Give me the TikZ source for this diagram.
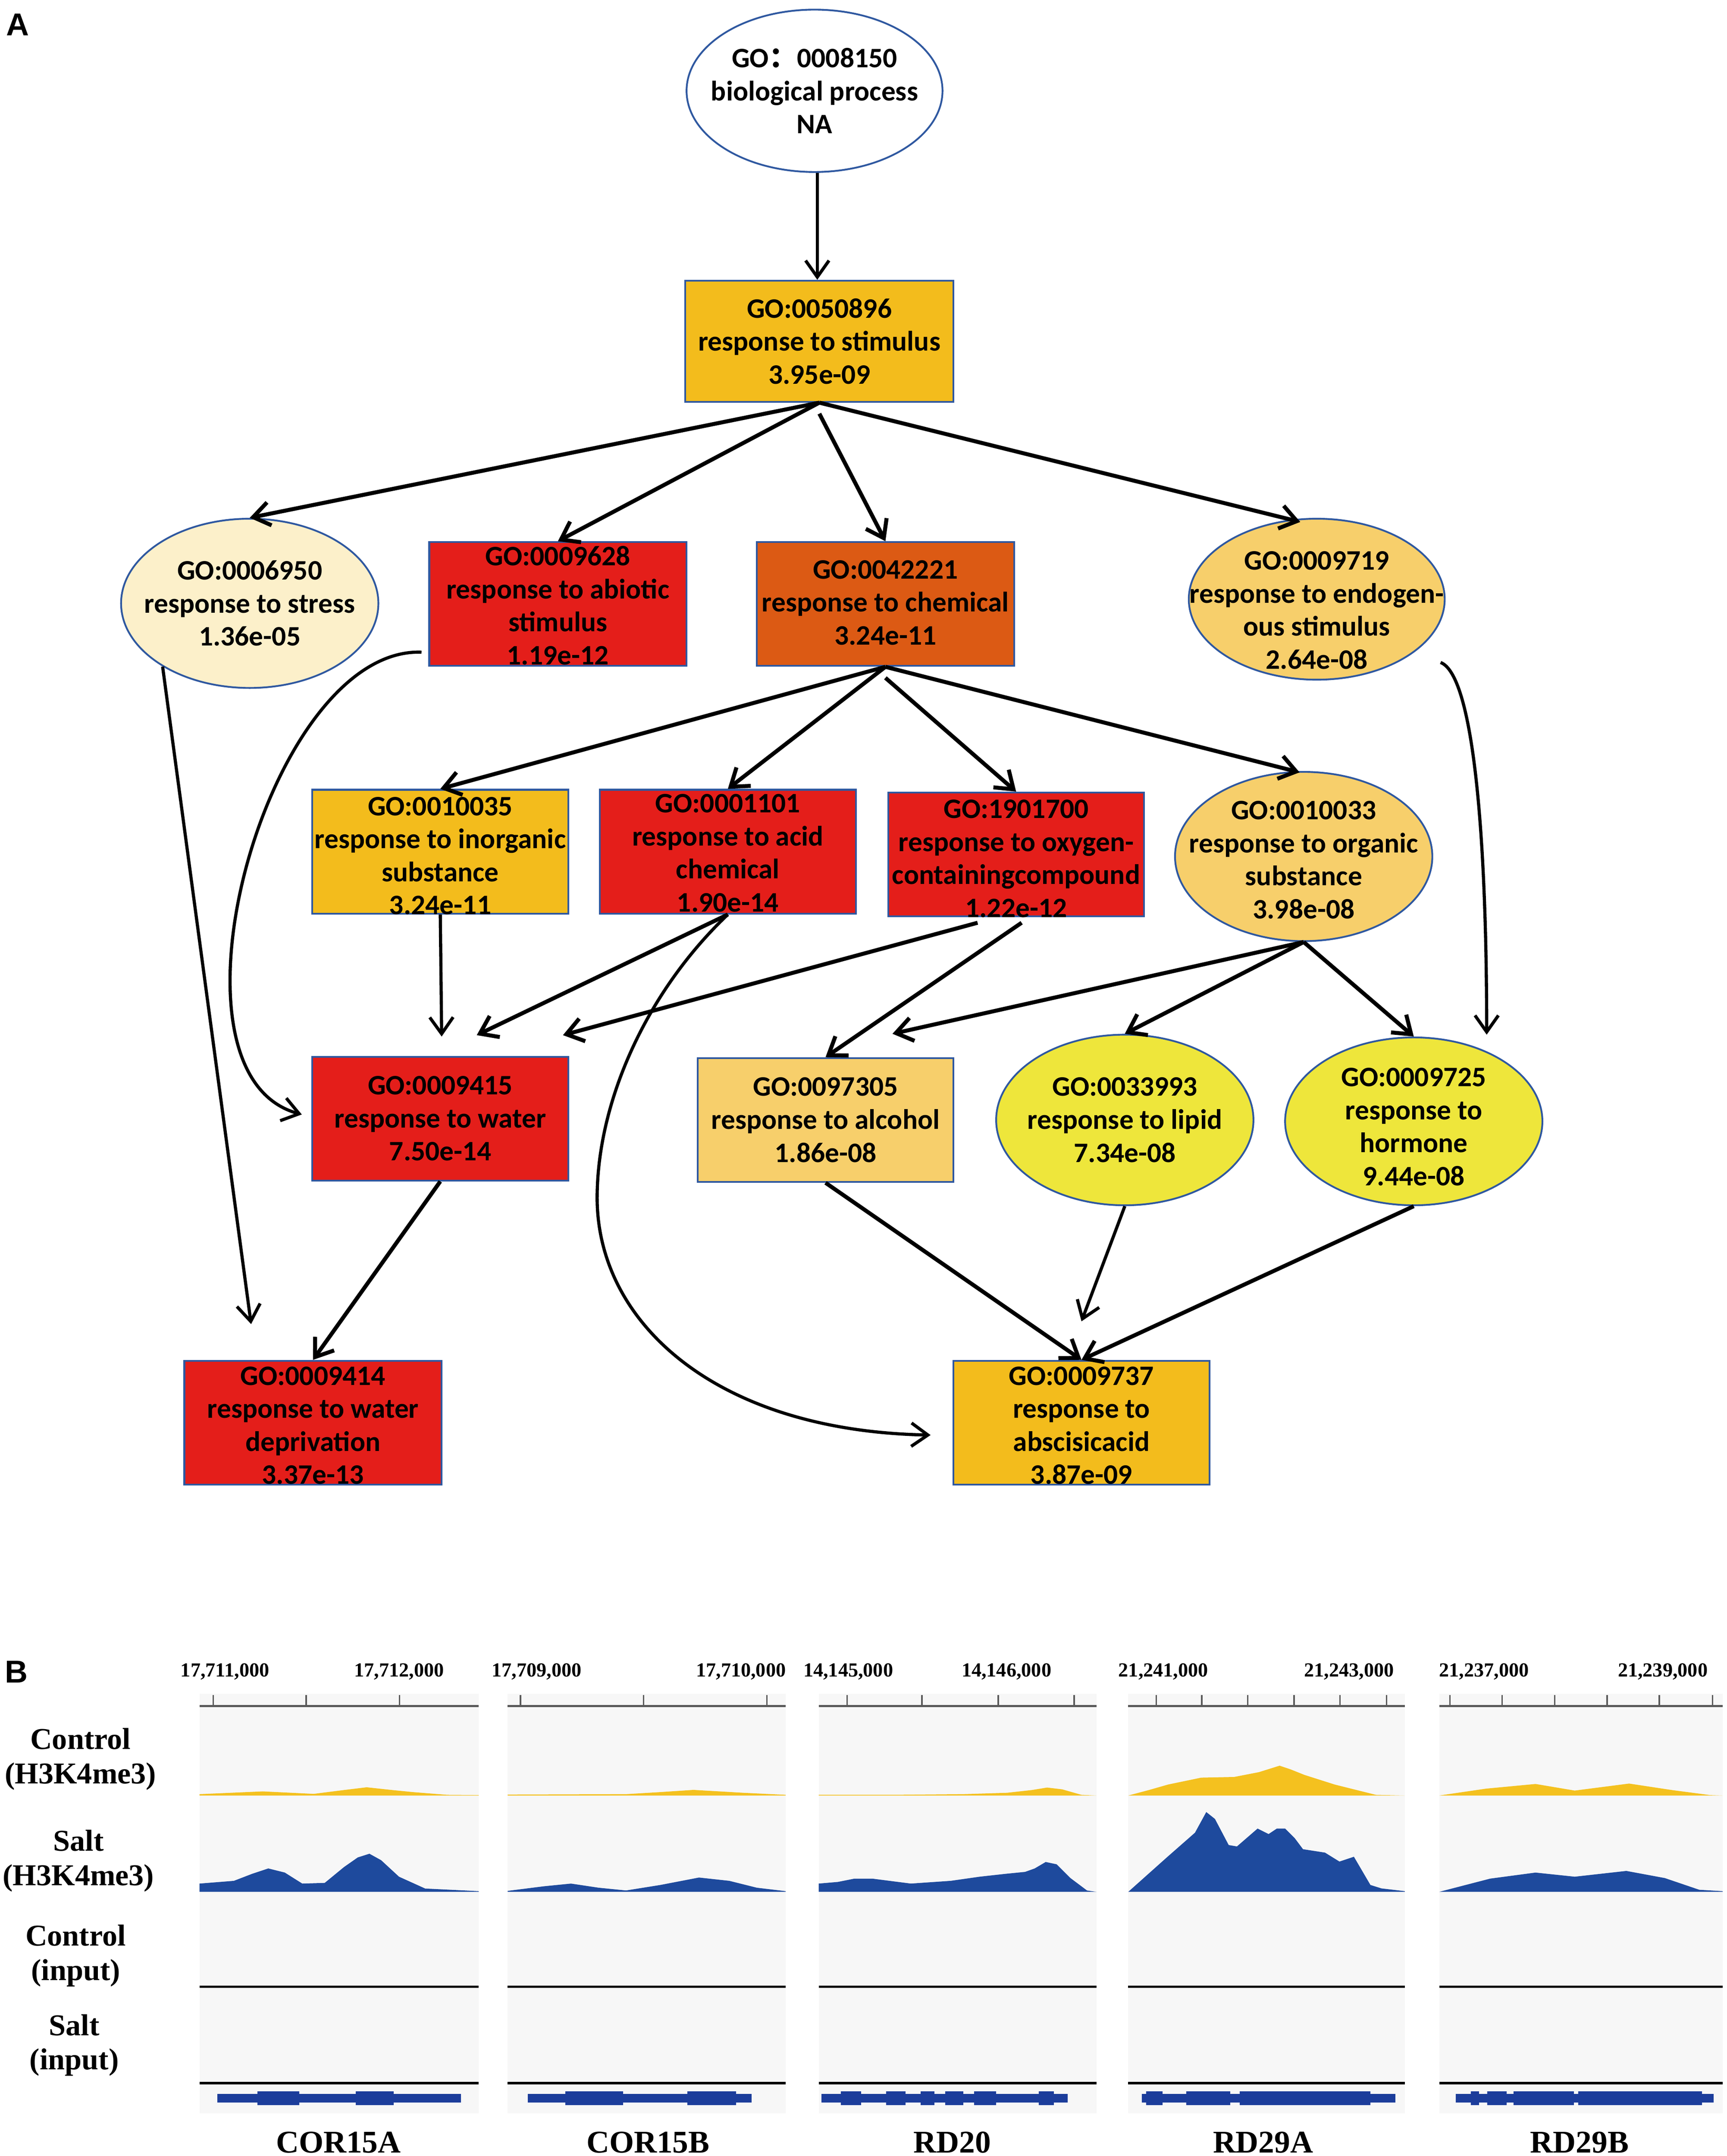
\documentclass[tikz,border=0pt]{standalone}
\usepackage{fontspec}
\setmainfont{Liberation Serif}
\newfontfamily\gofont{Carlito}
\newfontfamily\sansb{Liberation Sans}
\newfontfamily\cjk{Noto Sans CJK SC}
\usetikzlibrary{arrows.meta,calc,shapes.geometric}
\definecolor{gored}{HTML}{E41E1A}
\definecolor{gochem}{HTML}{DC5A14}
\definecolor{goorange}{HTML}{F3BC1C}
\definecolor{golight}{HTML}{F7CF6B}
\definecolor{goyellow}{HTML}{EEE63B}
\definecolor{gocream}{HTML}{FCF0CA}
\definecolor{goblue}{HTML}{2F58A0}
\definecolor{sigyel}{HTML}{F4C11F}
\definecolor{sigblue}{HTML}{1E4A9D}
\definecolor{genec}{HTML}{1C3D9B}
\definecolor{panelbg}{HTML}{F7F7F7}
\definecolor{rulerc}{HTML}{5A5A5A}
\newcommand\gobox[9]{%
  \node[#2,fill=#3,minimum width=#6pt,minimum height=#7pt] (#1) at (#4,#5) {};
  \node[gotext] (#1t) at ($(#1.center)+(0,#8)$) {#9};}
\begin{document}
\begin{tikzpicture}[x=1pt,y=-1pt,
  gorect/.style={rectangle,draw=goblue,line width=1.3pt,inner sep=0pt},
  goell/.style={ellipse,draw=goblue,line width=1.3pt,inner sep=0pt},
  gotext/.style={align=center,inner sep=0pt,font=\gofont\bfseries\fontsize{20.5}{24}\selectfont},
  arr/.style={line width=2.9pt,-{Straight Barb[length=12pt,width=17pt,line width=2.9pt]}},
  arrthin/.style={line width=2.3pt,-{Straight Barb[length=12pt,width=17pt,line width=2.3pt]}},
  panlab/.style={font=\sansb\bfseries\fontsize{23}{23}\selectfont,inner sep=0pt},
  ticklab/.style={font=\bfseries\fontsize{14.5}{15}\selectfont,inner sep=0pt},
  rowlab/.style={align=center,font=\bfseries\fontsize{22}{25}\selectfont,inner sep=0pt},
  genelab/.style={font=\bfseries\fontsize{23}{23}\selectfont,inner sep=0pt},
  tick/.style={rulerc,line width=1.1pt},
  ruler/.style={rulerc,line width=1.5pt},
  inputline/.style={black,line width=1.6pt}
]
\useasboundingbox (0,0) rectangle (1255,1567);
\fill[white] (0,0) rectangle (1255,1567);

% ---------------- Panel A ----------------
\node[panlab] (labA) at (13,18) {A};

\gobox{root}{goell}{white}{592}{66}{186}{118}{0}{GO{\cjk ：}0008150\\biological process\\NA}
\gobox{stim}{gorect}{goorange}{595.5}{248}{195}{88}{0}{GO:0050896\\response to stimulus\\3.95e-09}
\gobox{stress}{goell}{gocream}{181.5}{438.5}{187}{123}{0}{GO:0006950\\response to stress\\1.36e-05}
\gobox{abiotic}{gorect}{gored}{405.5}{439}{187}{90}{1}{GO:0009628\\response to abiotic\\stimulus\\1.19e-12}
\gobox{chem}{gorect}{gochem}{643.5}{439}{187}{90}{-1}{GO:0042221\\response to chemical\\3.24e-11}
\gobox{endo}{goell}{golight}{957}{435.5}{186}{117}{8}{GO:0009719\\response to endogen-\\ous stimulus\\2.64e-08}
\gobox{inorg}{gorect}{goorange}{320}{619}{186}{90}{3}{GO:0010035\\response to inorganic\\substance\\3.24e-11}
\gobox{acid}{gorect}{gored}{529}{619}{186}{90}{1}{GO:0001101\\response to acid\\chemical\\1.90e-14}
\gobox{oxy}{gorect}{gored}{738.5}{621}{186}{90}{3}{GO:1901700\\response to oxygen-\\containingcompound\\1.22e-12}
\gobox{organic}{goell}{golight}{947.5}{622.5}{187}{123}{2.5}{GO:0010033\\response to organic\\substance\\3.98e-08}
\gobox{water}{gorect}{gored}{320}{813}{186}{90}{0}{GO:0009415\\response to water\\7.50e-14}
\gobox{alcohol}{gorect}{golight}{600}{814}{186}{90}{0}{GO:0097305\\response to alcohol\\1.86e-08}
\gobox{lipid}{goell}{goyellow}{817.5}{814}{187}{124}{0}{GO:0033993\\response to lipid\\7.34e-08}
\gobox{hormone}{goell}{goyellow}{1027.5}{815}{187}{122}{4}{GO:0009725\\response to\\hormone\\9.44e-08}
\gobox{deprive}{gorect}{gored}{227.5}{1034}{187}{90}{2}{GO:0009414\\response to water\\deprivation\\3.37e-13}
\gobox{aba}{gorect}{goorange}{786}{1034}{186}{90}{2}{GO:0009737\\response to\\abscisicacid\\3.87e-09}

\draw[arrthin] ($(root.south)+(2,0)$) -- ($(stim.north)+(-1.5,0)$);
\draw[arr] (stim.south) -- (stress.north);
\draw[arr] (stim.south) -- (abiotic.north);
\draw[arr] ($(stim.south)+(0,8)$) -- (chem.north);
\draw[arr] (stim.south) -- ($(endo.north)+(-12,3)$);
\draw[arr] (chem.south) -- (inorg.north);
\draw[arr] (chem.south) -- (acid.north);
\draw[arr] ($(chem.south)+(0,8)$) -- (oxy.north);
\draw[arr] (chem.south) -- ($(organic.north)+(-3,1)$);
\draw[arrthin] (inorg.south) -- ($(water.north)+(1,-14)$);
\draw[arr] (acid.south) -- ($(water.north)+(26.5,-15)$);
\draw[arr] ($(oxy.south)+(-28,4)$) -- ($(water.north east)+(-4.5,-15)$);
\draw[arr] ($(oxy.south)+(4,4)$) -- (alcohol.north);
\draw[arr] (organic.south) -- ($(alcohol.north east)+(-45,-17)$);
\draw[arr] (organic.south) -- (lipid.north);
\draw[arr] (organic.south) -- (hormone.north);
\draw[arrthin] ($(endo.center)+(90,46)$) .. controls +(23,8.5) and +(0,-152) .. ($(hormone.center)+(53,-63)$);
\draw[arrthin] ($(abiotic.west)+(-5,35)$) .. controls +(-112,-4) and +(-110,-30) .. ($(water.west)+(-7,-3)$);
\draw[arrthin] (acid.south) .. controls +(-59,56) and +(0,-70) .. ($(acid.south)+(-95,206)$)
   .. controls +(0,90) and +(-157,-3) .. ($(aba.west)+(-16,9)$);
\draw[arrthin] (stress.216) -- ($(deprive.north)+(-45,-26)$);
\draw[arr] (water.south) -- (deprive.north);
\draw[arr] (alcohol.south) -- (aba.north);
\draw[arrthin] (lipid.south) -- ($(aba.north)+(0,-28)$);
\draw[arr] (hormone.south) -- (aba.north);

% ---------------- Panel B ----------------
\node[panlab] (labB) at (12,1215) {B};

\foreach \a/\b in {145/348,369/571,595/797,820/1021,1046/1252}{
  \fill[panelbg] (\a,1231) rectangle (\b,1536);
  \draw[ruler] (\a,1240) -- (\b,1240);
  \draw[inputline] (\a,1444) -- (\b,1444);
  \draw[inputline] (\a,1514) -- (\b,1514);
}
\foreach \x in {155,222.5,290.4, 378.3,467.8,557.3, 615.7,670,725.5,780.7,
  840.4,873.4,906.8,940.5,973.9,1007.7, 1053.8,1091.7,1130,1168,1205.9,1244.6}{
  \draw[tick] (\x,1232) -- (\x,1240);
}
\node[ticklab] (t1a) at (163.5,1215) {17,711,000};
\node[ticklab] (t1b) at (290,1215) {17,712,000};
\node[ticklab] (t2a) at (390,1215) {17,709,000};
\node[ticklab] (t2b) at (538.5,1215) {17,710,000};
\node[ticklab] (t3a) at (616.5,1215) {14,145,000};
\node[ticklab] (t3b) at (731.5,1215) {14,146,000};
\node[ticklab] (t4a) at (845.5,1215) {21,241,000};
\node[ticklab] (t4b) at (980.5,1215) {21,243,000};
\node[ticklab] (t5a) at (1078.5,1215) {21,237,000};
\node[ticklab] (t5b) at (1208.5,1215) {21,239,000};

\node[rowlab] (r1) at (58.5,1278.5) {Control\\(H3K4me3)};
\node[rowlab] (r2) at (57,1352.5) {Salt\\(H3K4me3)};
\node[rowlab] (r3) at (55,1421.5) {Control\\(input)};
\node[rowlab] (r4) at (54,1486.5) {Salt\\(input)};

% control H3K4me3 (yellow)
\fill[sigyel] (145,1305) -- (145,1304) -- (191,1302) -- (228,1303.8) -- (250,1301) -- (266.5,1299) -- (285,1301) -- (300,1302.5) -- (325,1304.5) -- (348,1304.7) -- (348,1305) -- cycle;
\fill[sigyel] (369,1305) -- (369,1304.3) -- (455,1304) -- (480,1302.5) -- (504,1300.9) -- (540,1303) -- (571,1304.5) -- (571,1305) -- cycle;
\fill[sigyel] (595,1305) -- (595,1304.5) -- (650,1304.5) -- (700,1304) -- (732,1303) -- (750,1301) -- (761,1299.2) -- (772,1300.5) -- (786,1304.5) -- (797,1305) -- cycle;
\fill[sigyel] (820,1305) -- (835,1301) -- (849,1297) -- (873,1292) -- (897,1291.5) -- (915,1288) -- (930,1283.3) -- (938,1286) -- (948,1290) -- (970,1297) -- (1000,1304.5) -- (1021,1305) -- cycle;
\fill[sigyel] (1046,1305) -- (1080,1300) -- (1116,1296.6) -- (1144.5,1301.4) -- (1184,1296.3) -- (1215,1301) -- (1243,1304.7) -- (1252,1305) -- cycle;

% salt H3K4me3 (blue)
\fill[sigblue] (145,1375) -- (145,1369) -- (170,1367) -- (183,1362) -- (195,1358) -- (207,1361) -- (219.7,1369) -- (236,1368.5) -- (250,1357) -- (260,1350) -- (268.5,1347.3) -- (277,1352) -- (290,1364) -- (309,1372.6) -- (348,1374.5) -- (348,1375) -- cycle;
\fill[sigblue] (369,1375) -- (369,1374.3) -- (395,1371) -- (415,1369) -- (435,1372) -- (455,1374) -- (480,1370) -- (508,1364.6) -- (530,1367) -- (550,1372) -- (571,1374.5) -- (571,1375) -- cycle;
\fill[sigblue] (595,1375) -- (595,1369) -- (609,1367.8) -- (621,1365.4) -- (634,1365.4) -- (662,1369) -- (691,1367) -- (712,1364) -- (730,1362) -- (745,1360.5) -- (752,1358) -- (760,1353.3) -- (768,1355) -- (778,1365) -- (790,1374) -- (797,1375) -- cycle;
\fill[sigblue] (820,1375) -- (848,1350) -- (868.5,1332) -- (876.7,1317) -- (883,1322) -- (893,1341) -- (899,1342) -- (914,1329) -- (922,1333) -- (928,1329) -- (934,1329) -- (941,1336) -- (947,1344) -- (963,1346.5) -- (973.5,1353) -- (984,1349.5) -- (996,1370) -- (1004,1372.5) -- (1021,1374.5) -- (1021,1375) -- cycle;
\fill[sigblue] (1046,1375) -- (1083,1365.4) -- (1116,1361) -- (1144.5,1364) -- (1182,1359.8) -- (1210,1365) -- (1235,1373.5) -- (1252,1374.5) -- (1252,1375) -- cycle;

% gene models
\fill[genec] (158,1522) rectangle (335,1528);
\fill[genec] (187,1520) rectangle (217.6,1530);
\fill[genec] (258.7,1520) rectangle (286,1530);
\fill[genec] (383.6,1522) rectangle (546.3,1528);
\fill[genec] (410.9,1520) rectangle (452.8,1530);
\fill[genec] (499.6,1520) rectangle (535,1530);
\fill[genec] (597,1522) rectangle (776,1528);
\foreach \a/\b in {611/626,644/658,669/679,687/700,708/724,755/766}{\fill[genec] (\a,1520) rectangle (\b,1530);}
\fill[genec] (830,1522) rectangle (1014,1528);
\foreach \a/\b in {833/845,862/894,901/996}{\fill[genec] (\a,1520) rectangle (\b,1530);}
\fill[genec] (1058,1522) rectangle (1245.5,1528);
\foreach \a/\b in {1069/1075,1081/1095,1100/1144,1147/1237}{\fill[genec] (\a,1520) rectangle (\b,1530);}

\node[genelab] (g1) at (246,1557) {COR15A};
\node[genelab] (g2) at (471,1557) {COR15B};
\node[genelab] (g3) at (692,1557) {RD20};
\node[genelab] (g4) at (918,1557) {RD29A};
\node[genelab] (g5) at (1148,1557) {RD29B};
\end{tikzpicture}
\end{document}
